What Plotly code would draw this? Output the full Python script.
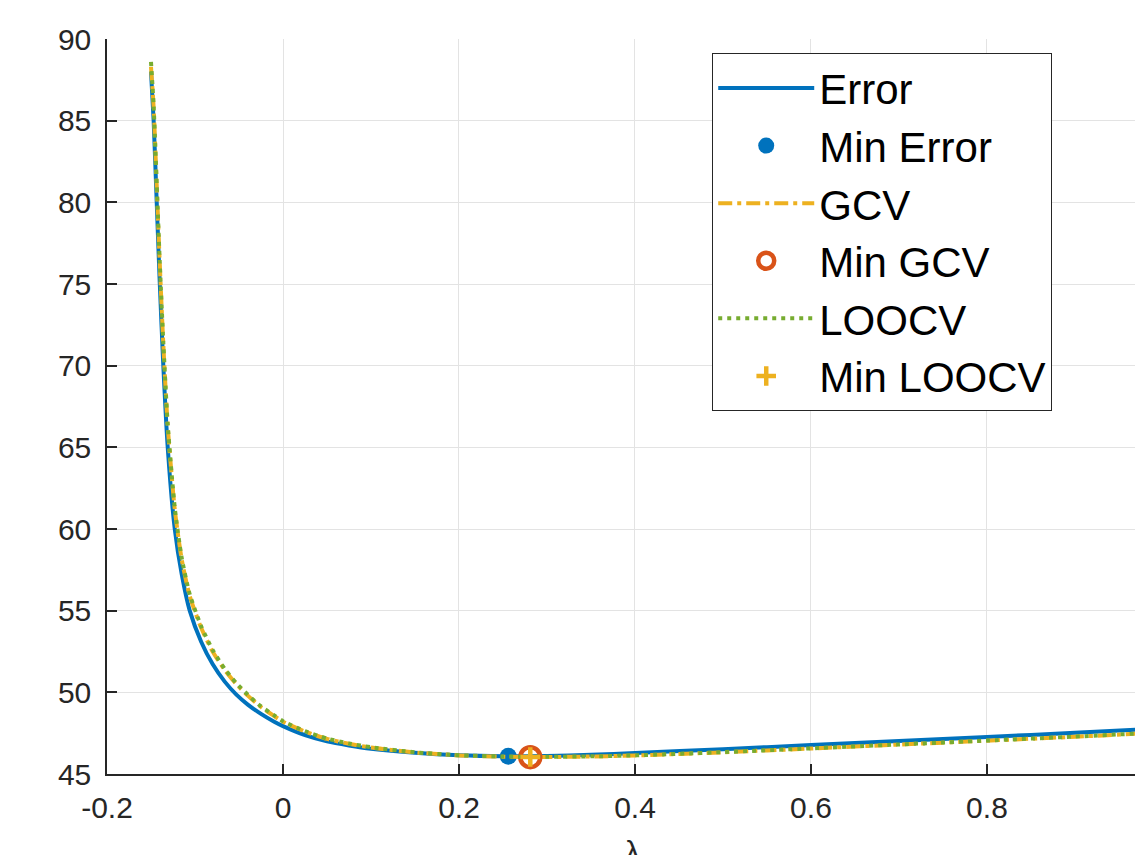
import plotly.graph_objects as go

# ---- data ----
lam = [-0.150, -0.147, -0.1435, -0.140, -0.136, -0.131, -0.123, -0.115, -0.106,
       -0.093, -0.080, -0.066, -0.053, -0.040, -0.025, -0.010, 0.0, 0.025, 0.05,
       0.075, 0.1, 0.15, 0.2, 0.25, 0.3, 0.35, 0.4, 0.5, 0.6, 0.7, 0.8, 0.9, 1.0]

err = [88.0, 85.0, 80.0, 75.0, 70.0, 65.0, 60.0, 57.2, 55.0,
       53.1, 51.73, 50.64, 49.86, 49.25, 48.68, 48.2, 47.93, 47.38, 47.0,
       46.75, 46.55, 46.3, 46.15, 46.09, 46.1, 46.18, 46.28, 46.52, 46.77, 47.02, 47.27, 47.52, 47.8]

gcv = [88.3, 85.8, 81.0, 76.2, 71.3, 66.3, 61.2, 58.1, 55.9,
       53.95, 52.5, 51.35, 50.5, 49.8, 49.1, 48.55, 48.2, 47.6, 47.15,
       46.85, 46.62, 46.32, 46.14, 46.06, 46.04, 46.07, 46.13, 46.33, 46.56, 46.8, 47.04, 47.28, 47.55]

loocv = [88.6, 85.9, 81.1, 76.3, 71.4, 66.4, 61.3, 58.2, 56.0,
         54.05, 52.6, 51.42, 50.56, 49.85, 49.14, 48.59, 48.23, 47.62, 47.17,
         46.87, 46.64, 46.33, 46.15, 46.07, 46.05, 46.08, 46.14, 46.34, 46.57, 46.81, 47.05, 47.29, 47.56]

min_err_x, min_err_y = [0.256], [46.08]
min_gcv_x, min_gcv_y = [0.281], [46.03]
min_loocv_x, min_loocv_y = [0.281], [46.04]

x_ticks = [-0.2, 0, 0.2, 0.4, 0.6, 0.8]
x_tick_text = ["-0.2", "0", "0.2", "0.4", "0.6", "0.8"]
y_ticks = [45, 50, 55, 60, 65, 70, 75, 80, 85, 90]

BLUE = "#0072BD"
ORANGE = "#D95319"
YELLOW = "#EDB120"
GREEN = "#77AC30"
AX = "#262626"

fig = go.Figure()
fig.add_trace(go.Scatter(x=lam, y=err, mode="lines", name="Error",
                         line=dict(color=BLUE, width=4, shape="spline", smoothing=0.6)))
fig.add_trace(go.Scatter(x=min_err_x, y=min_err_y, mode="markers", name="Min Error",
                         marker=dict(color=BLUE, size=17, symbol="circle")))
fig.add_trace(go.Scatter(x=lam, y=gcv, mode="lines", name="GCV",
                         line=dict(color=YELLOW, width=4, dash="14px,5px,4px,5px",
                                   shape="spline", smoothing=0.6)))
fig.add_trace(go.Scatter(x=min_gcv_x, y=min_gcv_y, mode="markers", name="Min GCV",
                         marker=dict(color=ORANGE, size=20, symbol="circle-open",
                                     line=dict(color=ORANGE, width=4.5))))
fig.add_trace(go.Scatter(x=lam, y=loocv, mode="lines", name="LOOCV",
                         line=dict(color=GREEN, width=4, dash="4px,5px",
                                   shape="spline", smoothing=0.6)))
fig.add_trace(go.Scatter(x=min_loocv_x, y=min_loocv_y, mode="markers", name="Min LOOCV",
                         marker=dict(color=YELLOW, size=14, symbol="cross-thin",
                                     line=dict(color=YELLOW, width=4.5))))

fig.update_layout(
    width=1135, height=847,
    margin=dict(l=99, r=0, t=31, b=81),
    paper_bgcolor="white", plot_bgcolor="white",
    font=dict(family="Liberation Sans, Arial, sans-serif", color=AX),
    showlegend=True,
    legend=dict(x=0.584, y=0.981, xanchor="left", yanchor="top",
                bgcolor="white", bordercolor=AX, borderwidth=1.2,
                font=dict(size=42, color="black"), itemwidth=96,
                tracegroupgap=0),
    annotations=[dict(text="λ", xref="paper", yref="paper", x=0.5068, y=-0.080,
                      xanchor="center", yanchor="top", showarrow=False,
                      font=dict(size=30, color=AX))],
)
fig.update_xaxes(range=[-0.2, 0.9773], tickvals=x_ticks, ticktext=x_tick_text,
                 showgrid=True, gridcolor="#e3e3e3", gridwidth=1.2,
                 showline=True, linecolor=AX, linewidth=1.5,
                 ticks="inside", ticklen=10, tickcolor=AX, tickwidth=1.5,
                 ticklabelstandoff=6,
                 tickfont=dict(size=30, color=AX), zeroline=False)
fig.update_yaxes(range=[45, 90], tickvals=y_ticks,
                 showgrid=True, gridcolor="#e3e3e3", gridwidth=1.2,
                 showline=True, linecolor=AX, linewidth=1.5,
                 ticks="inside", ticklen=10, tickcolor=AX, tickwidth=1.5,
                 ticklabelstandoff=8,
                 tickfont=dict(size=30, color=AX), zeroline=False)

fig.write_html("out.html")
